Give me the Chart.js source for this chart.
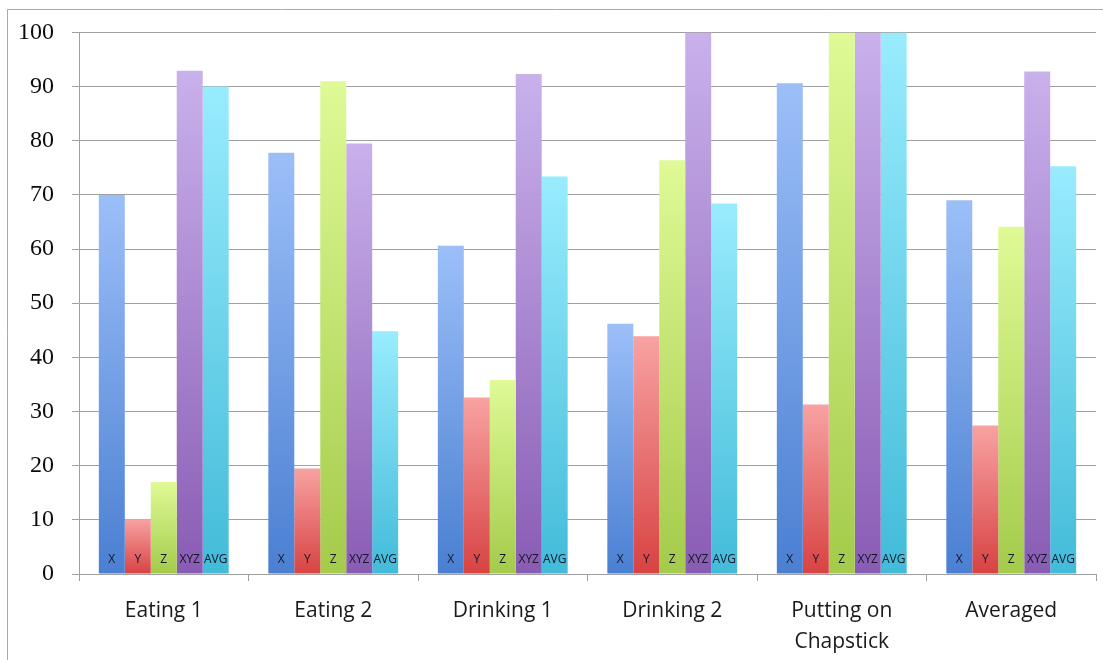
<!DOCTYPE html>
<html>
<head>
<meta charset="utf-8">
<script src="https://cdn.jsdelivr.net/npm/chart.js@4"></script>
<style>
  html, body { margin: 0; padding: 0; background: #fff; }
  #wrap { width: 1103px; height: 660px; }
</style>
</head>
<body>
<div id="wrap"><canvas id="myChart" width="1103" height="660"></canvas></div>
<script>
// tasks on the x axis
var tasks = ["Eating 1", "Eating 2", "Drinking 1", "Drinking 2", ["Putting on", "Chapstick"], "Averaged"];
var seriesNames = ["X", "Y", "Z", "XYZ", "AVG"];

// scores per series
var xData   = [70, 77.8, 60.6, 46.2, 90.6, 69];
var yData   = [10.1, 19.5, 32.6, 43.9, 31.3, 27.4];
var zData   = [17, 91, 35.8, 76.4, 100, 64.1];
var xyzData = [92.9, 79.5, 92.3, 100, 100, 92.8];
var avgData = [90, 44.8, 73.4, 68.4, 100, 75.3];

var yTicks = [0, 10, 20, 30, 40, 50, 60, 70, 80, 90, 100];

// light top / dark bottom for each bar
var shades = [
    ["#9cbff8", "#4a7fd2"],
    ["#f8a2a2", "#d84242"],
    ["#dffa96", "#a4cb4b"],
    ["#c9b1ec", "#895cb4"],
    ["#99ecfd", "#42bbd9"]
];

function barGradient(i) {
    return function (context) {
        var chart = context.chart;
        if (!chart.chartArea || context.type !== 'data') return shades[i][1];
        var yScale = chart.scales.y;
        var top = yScale.getPixelForValue(context.raw);
        var base = yScale.getPixelForValue(0);
        if (!isFinite(top) || !isFinite(base) || top === base) return shades[i][1];
        var g = chart.ctx.createLinearGradient(0, top, 0, base);
        g.addColorStop(0, shades[i][0]);
        g.addColorStop(1, shades[i][1]);
        return g;
    };
}

var allData = [xData, yData, zData, xyzData, avgData];
var datasets = [];
for (let i = 0; i < seriesNames.length; i++) {
    datasets.push({
        label: seriesNames[i],
        data: allData[i],
        backgroundColor: barGradient(i),
        borderWidth: 0,
        barPercentage: 1,
        categoryPercentage: 0.766
    });
}

// outer frame lines (top and left)
const framePlugin = {
    id: 'frame',
    beforeDraw(chart) {
        const ctx = chart.ctx;
        ctx.save();
        ctx.strokeStyle = '#a9a9a9';
        ctx.lineWidth = 1;
        ctx.beginPath();
        ctx.moveTo(7.5, 660);
        ctx.lineTo(7.5, 9.5);
        ctx.lineTo(1103, 9.5);
        ctx.stroke();
        ctx.restore();
    }
};

// series name written at the foot of every bar
const barNamePlugin = {
    id: 'barNames',
    afterDatasetsDraw(chart) {
        const ctx = chart.ctx;
        const base = chart.scales.y.getPixelForValue(0);
        ctx.save();
        ctx.font = '12px "Open Sans"';
        ctx.fillStyle = '#161628';
        ctx.textAlign = 'center';
        ctx.textBaseline = 'middle';
        chart.data.datasets.forEach((ds, i) => {
            const meta = chart.getDatasetMeta(i);
            meta.data.forEach((bar) => {
                ctx.fillText(ds.label, bar.x, base - 14);
            });
        });
        ctx.restore();
    }
};

var chart = new Chart("myChart", {
    type: "bar",
    data: {
        labels: tasks,
        datasets: datasets
    },
    options: {
        responsive: false,
        animation: false,
        layout: {
            padding: { left: 0, right: 7, top: 32, bottom: 0 }
        },
        plugins: {
            legend: { display: false },
            tooltip: { enabled: false }
        },
        scales: {
            x: {
                grid: {
                    display: true,
                    drawOnChartArea: false,
                    tickLength: 7,
                    color: '#a0a0a0'
                },
                border: { display: true, color: '#a0a0a0' },
                ticks: {
                    color: '#1a1a1a',
                    font: { family: '"Open Sans"', size: 21, lineHeight: 1.48 },
                    padding: 14,
                    maxRotation: 0,
                    autoSkip: false
                },
                afterFit(scale) { scale.height = 86; }
            },
            y: {
                min: 0,
                max: 100,
                afterBuildTicks(scale) {
                    scale.ticks = yTicks.map(v => ({ value: v }));
                },
                grid: {
                    color: '#a0a0a0',
                    tickLength: 7
                },
                border: { display: true, color: '#a0a0a0' },
                ticks: {
                    color: '#0c0c0c',
                    font: { family: '"Liberation Serif"', size: 24 },
                    padding: 18
                },
                afterFit(scale) { scale.width = 79; }
            }
        }
    },
    plugins: [framePlugin, barNamePlugin]
});
</script>
</body>
</html>
